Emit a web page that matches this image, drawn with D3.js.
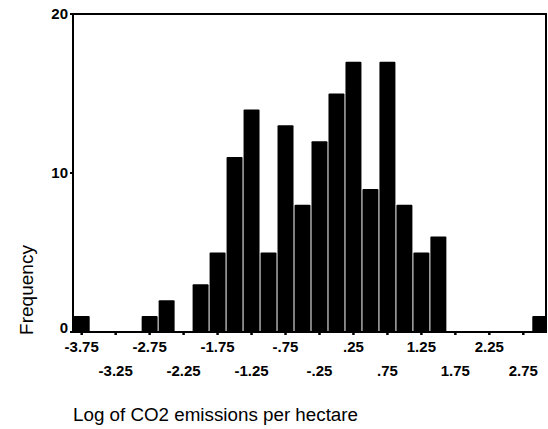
<!DOCTYPE html>
<html>
<head>
<meta charset="utf-8">
<script src="https://cdn.jsdelivr.net/npm/d3@7"></script>
<style>
  body { margin: 0; background: #fff; }
  text { font-family: "Liberation Sans", Arial, sans-serif; fill: #000; }
</style>
</head>
<body>
<div id="chart"></div>
<script>
// bin centres (width .25) and counts
var binCenters = [-3.75, -3.5, -3.25, -3, -2.75, -2.5, -2.25, -2, -1.75, -1.5, -1.25, -1, -0.75, -0.5,
                  -0.25, 0, 0.25, 0.5, 0.75, 1, 1.25, 1.5, 1.75, 2, 2.25, 2.5, 2.75, 3];
var frequencies = [1, 0, 0, 0, 1, 2, 0, 3, 5, 11, 14, 5, 13, 8,
                   12, 15, 17, 9, 17, 8, 5, 6, 0, 0, 0, 0, 0, 1];
var xTicks = [-3.75, -3.25, -2.75, -2.25, -1.75, -1.25, -0.75, -0.25, 0.25, 0.75, 1.25, 1.75, 2.25, 2.75];
var xTickLabels = ["-3.75", "-3.25", "-2.75", "-2.25", "-1.75", "-1.25", "-.75", "-.25", ".25", ".75", "1.25", "1.75", "2.25", "2.75"];
var yTicks = [0, 10, 20];

var width = 548, height = 429;
var plotLeft = 73, plotRight = 546, plotTop = 14, plotBottom = 332;
var binWidth = 0.25;

var x = d3.scaleLinear().domain([-3.75, 2.75]).range([81.7, 523.3]);
var y = d3.scaleLinear().domain([0, 20]).range([plotBottom, plotTop]);

var svg = d3.select("#chart").append("svg")
    .attr("width", width)
    .attr("height", height);

svg.append("clipPath").attr("id", "plot")
  .append("rect")
    .attr("x", plotLeft).attr("y", plotTop)
    .attr("width", plotRight - plotLeft).attr("height", plotBottom - plotTop);

var bins = binCenters.map(function(c, i) { return { c: c, f: frequencies[i] }; });

svg.append("g").attr("clip-path", "url(#plot)")
  .selectAll("rect")
  .data(bins.filter(function(d) { return d.f > 0; }))
  .enter().append("rect")
    .attr("x", function(d) { return x(d.c - binWidth / 2) + 0.5; })
    .attr("width", function(d) { return x(d.c + binWidth / 2) - x(d.c - binWidth / 2) - 1; })
    .attr("y", function(d) { return y(d.f); })
    .attr("height", function(d) { return plotBottom - y(d.f); })
    .attr("rx", 1)
    .attr("fill", "#000");

// frame: left, top, right, baseline
svg.append("path")
    .attr("d", "M" + plotLeft + "," + plotBottom + "V" + plotTop + "H" + plotRight + "V" + plotBottom + "H" + plotLeft)
    .attr("fill", "none")
    .attr("stroke", "#000")
    .attr("stroke-width", 2);

// x ticks (little marks under the baseline) and labels in two rows
var xg = svg.append("g");
xg.selectAll("line")
  .data(binCenters.filter(function(c) { return Math.abs((c * 4) % 2) === 1; }))
  .enter().append("line")
    .attr("x1", function(d) { return x(d); })
    .attr("x2", function(d) { return x(d); })
    .attr("y1", plotBottom)
    .attr("y2", plotBottom + 3)
    .attr("stroke", "#000")
    .attr("stroke-width", 2.5);

xg.selectAll("text")
  .data(xTicks)
  .enter().append("text")
    .attr("x", function(d) { return x(d); })
    .attr("y", function(d, i) { return i % 2 === 0 ? 352 : 376; })
    .attr("text-anchor", "middle")
    .attr("font-size", 15)
    .attr("font-weight", "bold")
    .text(function(d, i) { return xTickLabels[i]; });

// y ticks
var yg = svg.append("g");
yg.selectAll("line")
  .data(yTicks)
  .enter().append("line")
    .attr("x1", plotLeft - 3)
    .attr("x2", plotLeft)
    .attr("y1", function(d) { return y(d); })
    .attr("y2", function(d) { return y(d); })
    .attr("stroke", "#000")
    .attr("stroke-width", 2);

yg.selectAll("text")
  .data(yTicks)
  .enter().append("text")
    .attr("x", plotLeft - 5)
    .attr("y", function(d) { return y(d) + (d === 0 ? 1 : 5); })
    .attr("text-anchor", "end")
    .attr("font-size", 15)
    .attr("font-weight", "bold")
    .text(function(d) { return d; });

svg.append("text")
    .attr("transform", "translate(33,290) rotate(-90)")
    .attr("text-anchor", "middle")
    .attr("font-size", 19)
    .text("Frequency");

svg.append("text")
    .attr("x", plotLeft)
    .attr("y", 421)
    .attr("font-size", 18.8)
    .text("Log of CO2 emissions per hectare");
</script>
</body>
</html>
